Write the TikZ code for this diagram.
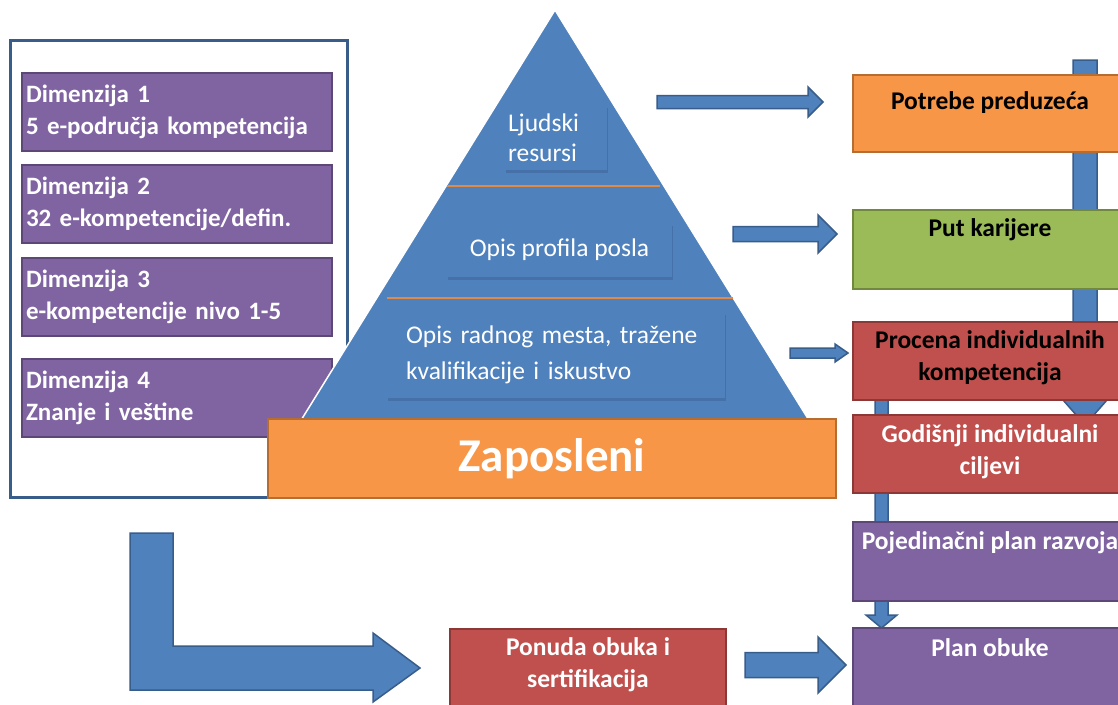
\documentclass[tikz,border=0pt]{standalone}
\usepackage{fontspec}
\setmainfont{Carlito}
\usetikzlibrary{shadows}

\definecolor{cblue}{HTML}{4F81BD}
\definecolor{cblueD}{HTML}{385D8A}
\definecolor{corange}{HTML}{F79646}
\definecolor{corangeD}{HTML}{B66D31}
\definecolor{cgreen}{HTML}{9BBB59}
\definecolor{cgreenD}{HTML}{71893F}
\definecolor{cred}{HTML}{C0504D}
\definecolor{credD}{HTML}{8C3836}
\definecolor{cpurple}{HTML}{8064A2}
\definecolor{cpurpleD}{HTML}{5C4776}
\definecolor{cline}{HTML}{E08A48}
\definecolor{cshadow}{HTML}{2F4F7A}

\tikzset{
  dimbox/.style={rectangle, fill=cpurple, draw=cpurpleD, line width=2pt,
    minimum width=310pt, minimum height=78pt, inner sep=0pt,
    text width=302pt, align=left, text=white,
    font=\bfseries\fontsize{25}{32}\selectfont},
  pyrbox/.style={rectangle, fill=cblue, inner sep=0pt,
    drop shadow={shadow xshift=0.5pt, shadow yshift=-3pt, opacity=0.3, fill=cshadow},
    text=white, font=\fontsize{25.5}{30}\selectfont},
  rbox/.style={rectangle, draw, line width=2pt, inner sep=0pt,
    minimum width=274pt},
  rtext/.style={font=\bfseries\fontsize{25.5}{32}\selectfont, align=center, inner sep=0pt},
  bluearrow/.style={fill=cblue, draw=cblueD, line width=1.5pt, line join=miter},
  tierline/.style={draw=cline, line width=1.5pt}
}

\begin{document}
\begin{tikzpicture}[x=1pt,y=-1pt]
\useasboundingbox (0,0) rectangle (1118,704);
\clip (0,0) rectangle (1118,704);
\fill[white] (0,0) rectangle (1118,704);

% ---- left panel with the four dimensions ----
\node[draw=cblueD, line width=3pt, fill=white, minimum width=337pt, minimum height=457pt,
  inner sep=0pt] (panel) at (178.5,268.5) {};
\node[dimbox] (dim1) at (177,112)   {Dimenzija 1\\5 e-područja kompetencija};
\node[dimbox] (dim2) at (177,204)   {Dimenzija 2\\32 e-kompetencije/defin.};
\node[dimbox] (dim3) at (177,296.5) {Dimenzija 3\\e-kompetencije nivo 1-5};
\node[dimbox] (dim4) at (177,397.5) {Dimenzija 4\\Znanje i veštine};

% ---- pyramid ----
\filldraw[fill=cblue, draw=white, line width=1.5pt] (555,10) -- (295,430) -- (815,430) -- cycle;
\coordinate (t1l) at (447,186); \coordinate (t1r) at (660,186);
\coordinate (t2l) at (387,298); \coordinate (t2r) at (733,298);
\draw[tierline] (t1l) -- (t1r);
\draw[tierline] (t2l) -- (t2r);

\node[pyrbox, minimum width=102pt, minimum height=65pt, text width=96pt, align=left]
  (hr) at (556,137.5) {Ljudski\\resursi};
\node[pyrbox, minimum width=225pt, minimum height=54pt] (profil) at (559.5,250) {Opis profila posla};
\node[pyrbox, minimum width=338pt, minimum height=86pt, text width=300pt, align=left,
  font=\fontsize{25.5}{36}\selectfont]
  (mesto) at (556,355) {Opis radnog mesta, tražene\\kvalifikacije i iskustvo};

\node[rectangle, fill=corange, draw=corangeD, line width=2.5pt, minimum width=568pt,
  minimum height=79pt, inner sep=0pt, text=white, font=\bfseries\fontsize{47}{50}\selectfont]
  (zap) at (552,458.5) {Zaposleni};

% ---- vertical flow bars on the right (behind the boxes) ----
\filldraw[bluearrow] (1073,60) -- (1097,60) -- (1097,400) -- (1107,400) -- (1085,425)
  -- (1063,400) -- (1073,400) -- cycle;
\filldraw[bluearrow] (875,398) -- (888,398) -- (888,615) -- (897,615) -- (881.5,628)
  -- (866,615) -- (875,615) -- cycle;

% ---- right column ----
\node[rbox, fill=corange, draw=corangeD, minimum height=77pt] (potrebe) at (990,113.5) {};
\node[rbox, fill=cgreen, draw=cgreenD, minimum height=79pt] (karijera) at (990,249.5) {};
\node[rbox, fill=cred, draw=credD, minimum height=78pt] (procena) at (990,361) {};
\node[rbox, fill=cred, draw=credD, minimum height=78pt] (ciljevi) at (990,454) {};
\node[rbox, fill=cpurple, draw=cpurpleD, minimum height=79pt] (razvoj) at (990,561.5) {};
\node[rbox, fill=cpurple, draw=cpurpleD, minimum height=92pt] (obuka) at (990,674) {};

\node[rtext, text=black] (potrebeT) at (990,103) {Potrebe preduzeća};
\node[rtext, text=black] (karijeraT) at (990,230) {Put karijere};
\node[rtext, text=black] (procenaT) at (990,358) {Procena individualnih\\kompetencija};
\node[rtext, text=white] (ciljeviT) at (990,451.5) {Godišnji individualni\\ciljevi};
\node[rtext, text=white] (razvojT) at (990,543) {Pojedinačni plan razvoja};
\node[rtext, text=white] (obukaT) at (990,648) {Plan obuke};

% ---- training offer ----
\node[rectangle, fill=cred, draw=credD, line width=2pt, minimum width=276pt,
  minimum height=91pt, inner sep=0pt] (ponuda) at (588,674.5) {};
\node[rtext, text=white] (ponudaT) at (588,665) {Ponuda obuka i\\sertifikacija};

% ---- block arrows ----
\filldraw[bluearrow] (657,95.5) -- (808,95.5) -- (808,87) -- (823,102) -- (808,117)
  -- (808,108.5) -- (657,108.5) -- cycle;
\filldraw[bluearrow] (733,226.5) -- (818,226.5) -- (818,215) -- (837,234) -- (818,253)
  -- (818,241.5) -- (733,241.5) -- cycle;
\filldraw[bluearrow] (790,348) -- (835,348) -- (835,344) -- (848,353) -- (835,362)
  -- (835,358) -- (790,358) -- cycle;
\filldraw[bluearrow] (745,652.5) -- (818,652.5) -- (818,637) -- (846,665) -- (818,693)
  -- (818,677.5) -- (745,677.5) -- cycle;
\filldraw[bluearrow] (130,533) -- (173,533) -- (173,646) -- (373,646) -- (373,633)
  -- (420,668) -- (373,702) -- (373,690) -- (130,690) -- cycle;
\end{tikzpicture}
\end{document}
